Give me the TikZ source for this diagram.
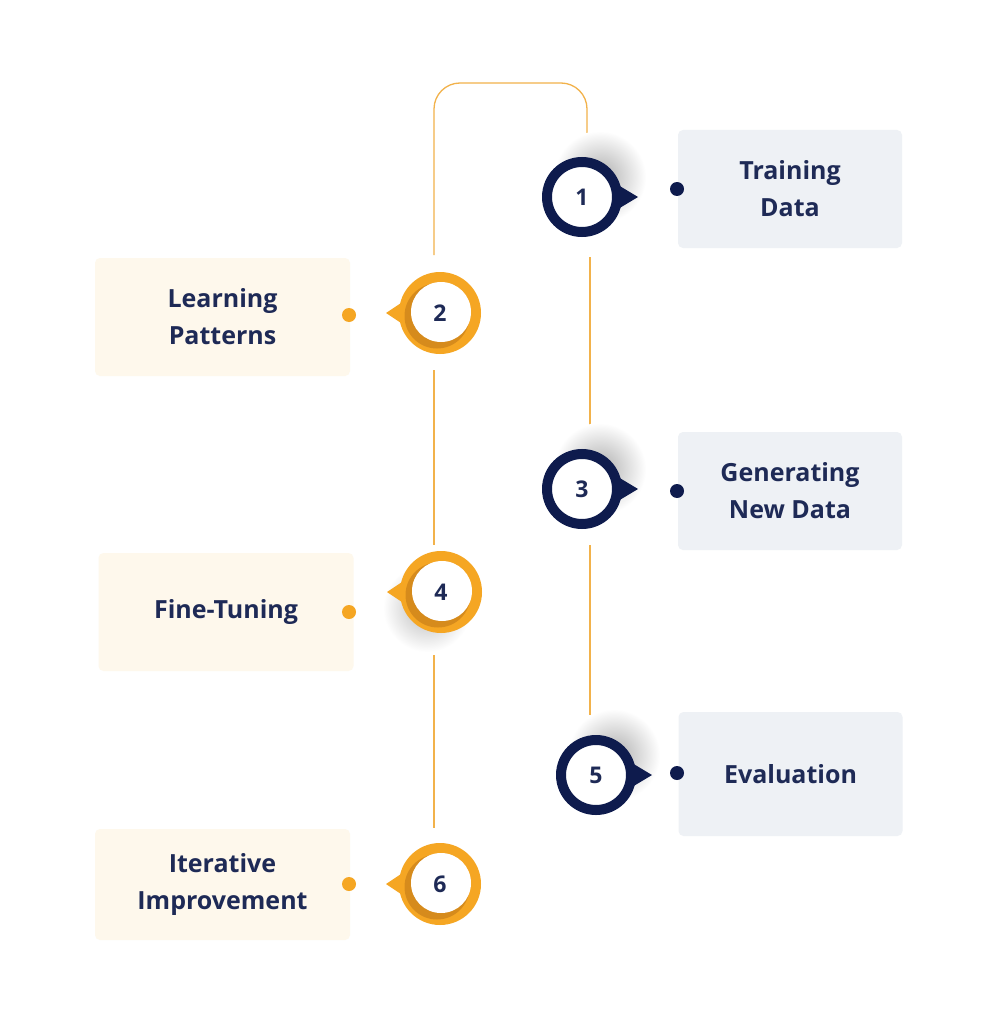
\documentclass[tikz,border=0pt]{standalone}
\usepackage{fontspec}
\newfontfamily\lbl{Open Sans}
\definecolor{navy}{HTML}{0E1B4D}
\definecolor{navytext}{HTML}{1E2A56}
\definecolor{boxgray}{HTML}{EEF1F5}
\definecolor{boxcream}{HTML}{FEF8EC}
\definecolor{ringO}{HTML}{F5A623}
\definecolor{ringOD}{HTML}{D68B1C}
\definecolor{lineO}{HTML}{F2B24B}
\definecolor{dotO}{HTML}{F5A623}
\tikzset{
  gbox/.style={fill=boxgray, rounded corners=5pt, minimum width=224pt, minimum height=118pt, inner sep=0pt, text=navytext, align=center, font=\lbl\bfseries\fontsize{25}{37}\selectfont},
  cbox/.style={gbox, fill=boxcream, minimum width=255pt},
  navyring/.style={circle, draw=navy, line width=10pt, fill=white, minimum size=70pt, inner sep=0pt, text=navytext, font=\lbl\bfseries\fontsize{23}{26}\selectfont},
  onum/.style={circle, minimum size=82pt, inner sep=0pt, text=navytext, font=\lbl\bfseries\fontsize{23}{26}\selectfont},
  ndot/.style={circle, fill=navy, minimum size=14pt, inner sep=0pt},
  odot/.style={circle, fill=dotO, minimum size=14pt, inner sep=0pt},
  conn/.style={draw=lineO, line width=1.3pt},
}
\newcommand\ostep[4]{%
  \fill[ringO] (#2,#3) circle (41);
  \fill[ringOD] (#2-3,#3+3) circle (32.5);
  \fill[white] (#2+1,#3-1) circle (30);
  \fill[ringO] (#2-36,#3-12) -- (#2-54,#3) -- (#2-36,#3+12) -- cycle;
  \node[onum] (#1) at (#2,#3) {#4};}
\newcommand\nstep[4]{%
  \shade[inner color=black!32, outer color=white] (#2+18,#3-20) circle (46);
  \fill[navy] (#2+36,#3-12) -- (#2+56,#3) -- (#2+36,#3+12) -- cycle;
  \node[navyring] (#1) at (#2,#3) {#4};}
\begin{document}
\begin{tikzpicture}[x=1pt,y=-1pt]
\fill[white] (0,0) rectangle (998,1024);
\useasboundingbox (0,0) rectangle (998,1024);

% boxes
\node[gbox] (b1) at (790,189) {Training\\Data};
\node[gbox] (b3) at (790,491) {Generating\\New Data};
\node[gbox, minimum height=124pt] (b5) at (790.5,774) {Evaluation};
\node[cbox] (b2) at (222.5,317) {Learning\\Patterns};
\node[cbox] (b4) at (226,612) {Fine-Tuning};
\node[cbox, minimum height=111pt] (b6) at (222.5,884.5) {Iterative\\Improvement};

% connector coordinates
\coordinate (t1) at (434,255);
\coordinate (t2) at (587,133);
\coordinate (r1a) at (590,257);
\coordinate (r1b) at (590,428);
\coordinate (r2a) at (590,545);
\coordinate (r2b) at (590,715);
\coordinate (l1a) at (434,370);
\coordinate (l1b) at (434,545);
\coordinate (l2a) at (434,655);
\coordinate (l2b) at (434,828);

\draw[conn, rounded corners=26pt] (t1) -- (434,83) -- (587,83) -- (t2);
\draw[conn] (r1a) -- (r1b);
\draw[conn] (r2a) -- (r2b);
\draw[conn] (l1a) -- (l1b);
\draw[conn] (l2a) -- (l2b);

% shadow for step 4
\shade[inner color=black!28, outer color=white] (427,608) circle (44);

% steps
\nstep{c1}{582}{197}{1}
\ostep{c2}{440}{313}{2}
\nstep{c3}{582}{489}{3}
\ostep{c4}{441}{592}{4}
\nstep{c5}{596}{775}{5}
\ostep{c6}{440}{884}{6}

% dots
\node[ndot] (d1) at (677,189) {};
\node[ndot] (d3) at (677,491) {};
\node[ndot] (d5) at (677,773) {};
\node[odot] (d2) at (349,315) {};
\node[odot] (d4) at (349,612) {};
\node[odot] (d6) at (349,884) {};
\end{tikzpicture}
\end{document}
